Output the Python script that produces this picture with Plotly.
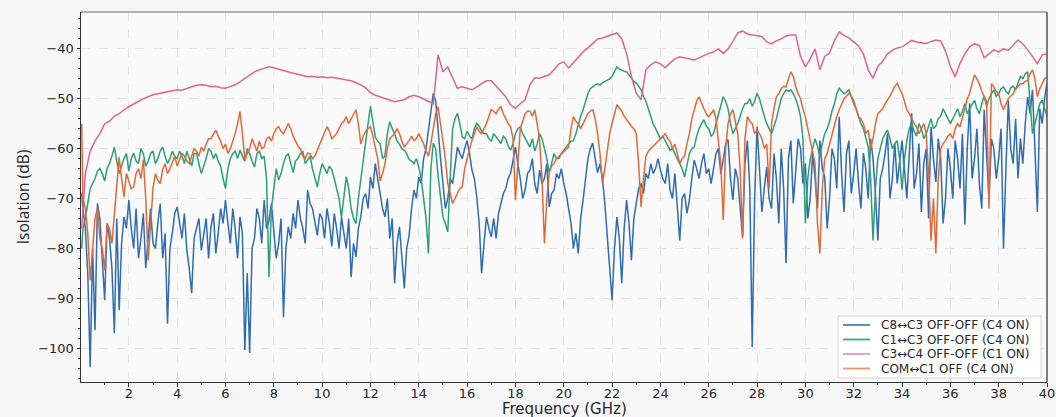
import numpy as np
import plotly.graph_objects as go

# frequency grids (GHz)
freq_fine = np.round(np.arange(401) * 0.1, 2)
freq_fine[0] = 0.05
freq_pink = np.round(np.arange(201) * 0.2, 2)
freq_pink[0] = 0.05

c8_c3 = [
    -69, -72, -76, -85, -103.8, -80, -96.4, -71, -74, -82, -90.4, -75, -78, -84, -97, -74, -92.4, -79, -73.7, -76,
    -70.3, -76, -80, -72, -82, -78, -73, -84, -78, -72, -79, -80, -75, -71, -82, -77, -95.1, -80, -77, -73,
    -71.7, -75, -78, -73, -80.4, -84, -89, -78, -76, -74, -80.4, -77, -74, -82, -75.7, -73, -81, -77, -72, -75,
    -70.3, -75, -79, -72, -76, -82, -73.7, -77, -100.4, -85, -101, -80, -78, -72, -74, -79, -70.3, -76, -74.5, -71,
    -77, -82, -79, -74, -93.8, -80, -75.7, -78, -73, -76, -70.3, -74, -76, -79, -68.3, -71, -72, -75, -77.4, -73,
    -74, -78, -72, -75, -79.6, -73, -76, -80, -73.7, -77, -80, -74, -85.8, -79, -81.7, -76, -73.7, -70, -69, -72,
    -65.7, -68, -63, -66, -69, -72, -73.7, -70, -78, -74, -87, -79, -75.7, -82, -88, -80, -77.4, -72, -68.3, -70,
    -65.7, -67, -62, -60, -56, -52, -48.9, -50.5, -57, -62, -67, -72, -70, -66, -67, -63, -59.7, -61, -62, -60,
    -58.4, -61, -64.3, -66, -69.7, -75, -85, -79, -73.7, -76, -77.7, -74, -78, -73, -71, -69, -68, -66, -64.9, -62,
    -59.7, -63, -66, -70, -68.3, -65, -64.3, -62, -67, -69, -64.3, -67, -66, -63, -71.7, -69, -68.3, -65, -66, -64,
    -67, -69, -72, -75, -80, -77, -81, -74, -70.3, -66, -62, -60, -58.9, -62, -64.8, -63, -66, -71, -77.4, -84,
    -90.4, -80, -73.7, -78, -87, -76, -70.3, -75, -82.4, -74, -70.7, -68, -67, -69, -65, -66, -63, -65, -64, -62,
    -64.3, -66, -67, -63, -68.3, -70, -65, -72, -78.4, -70, -69, -73, -70.3, -66, -62.3, -64, -66, -63, -61, -65,
    -64, -67, -63.7, -61, -60, -65, -62.3, -59, -58.2, -66, -70.3, -64, -66, -72, -77.7, -63, -58.4, -68, -99.8, -70,
    -55.6, -64, -72.7, -68, -63.7, -70, -72, -61, -66, -75, -60, -68, -83, -62, -58.4, -71, -64, -58, -60, -67,
    -63, -74, -70, -61, -66, -72, -58.4, -64, -65.7, -76, -70, -60, -62, -68, -53.6, -65, -72.7, -61, -58.4, -69,
    -65, -60, -67, -72, -60.9, -64, -70, -58, -62, -69, -78.4, -66, -64, -61, -57, -70, -66, -59, -67, -63,
    -58.4, -64, -70, -61, -52.9, -68, -65, -59, -72.7, -63, -60, -74, -55.6, -62, -66.7, -58, -62, -75, -70, -60,
    -64, -70, -58.4, -62, -68, -57, -75.2, -60, -50.9, -66, -62, -56, -67, -72, -52.2, -61, -70.3, -58, -60, -66,
    -62, -56, -80, -64, -50.3, -60, -63, -54, -66, -58, -63, -55, -49.6, -53, -48.2, -60, -72.7, -52, -55, -50,
    -46.8,
]

c1_c3 = [
    -80, -76, -74, -71, -68, -67, -66, -64.5, -64, -65, -66.5, -64, -63, -61.5, -59.7, -62.5, -65, -63.5, -62, -61,
    -64.5, -62, -60.9, -62.5, -63, -60, -61, -63.5, -62.5, -61, -60.5, -63, -62, -60.5, -59.7, -61.5, -63, -62, -60.5, -61.5,
    -62, -60.5, -61.5, -63, -60.5, -62, -63.5, -61, -61, -63, -65, -63.5, -62, -60, -60.5, -62, -61, -62.5, -63.5, -66,
    -68, -64, -62, -61, -60.5, -62, -60.3, -61.5, -62.5, -60, -61, -62.5, -63.7, -61, -60.5, -62, -61.5, -66, -85.8, -72,
    -67.7, -64, -66.3, -65, -63, -61.5, -61, -63, -64.8, -62.5, -62, -61, -60.5, -63, -62.2, -61.5, -64, -66, -67.7, -65,
    -63, -64, -65, -63.5, -64.2, -66, -68, -70, -73.7, -69, -65.6, -68, -72, -74, -75, -70, -66, -62, -59.1, -55,
    -51.5, -55, -57.7, -58.5, -59, -62, -61.5, -57, -54.6, -56, -57, -58.5, -59.1, -60, -60.3, -61, -62.2, -62.5, -63, -62,
    -63.7, -66, -69.7, -74, -81, -64, -58.9, -60, -65.5, -70, -73.7, -75, -76.7, -66, -56, -54, -52.9, -55, -57.7, -58,
    -56.5, -57.5, -58, -56, -54.9, -55.5, -56.5, -57, -57, -58, -58.5, -57, -57.7, -58.5, -59, -57.5, -58, -59.5, -60.3, -59,
    -57, -56, -55.6, -57, -58, -59, -59.7, -58, -60.5, -59, -57, -58, -60, -62, -64.8, -63, -61, -62, -62, -61,
    -60.3, -59.5, -59, -58.5, -58.4, -57, -55, -53.5, -52.2, -50.5, -49, -48, -47.6, -47.2, -47, -47.3, -46.8, -46.5, -46.3, -46,
    -45.5, -44.5, -43.6, -44, -44.3, -44.5, -44.6, -45.3, -46, -46.5, -46.8, -47.5, -48.2, -49.5, -50.5, -52, -53.5, -55, -56, -57,
    -58, -57.5, -58.4, -59.5, -60.3, -60, -61, -62, -62.9, -64, -65.7, -63, -61, -60, -59.7, -57.5, -56, -55, -54.2, -55.5,
    -56, -57.5, -57, -55, -53, -51, -49.6, -50.5, -52, -55, -57, -56, -55, -53.5, -52, -51, -50.9, -50, -51.5, -50.5,
    -48.9, -50, -52, -53.5, -55, -56, -57, -55.5, -54, -52, -50, -49, -48.2, -48.5, -48.2, -49, -50, -51.5, -53.6, -58,
    -75, -66, -62.2, -60, -58, -59.5, -61.5, -59, -57, -56, -54.6, -52.5, -51, -49, -47.9, -48.5, -49, -48.7, -48.2, -49.5,
    -51, -52, -53.6, -55, -56, -58, -59.7, -66, -78.4, -68, -62, -60, -58, -57, -56.3, -58, -60, -59, -58.4, -62,
    -68.3, -62, -58.4, -56, -55, -56.5, -57.5, -55, -56, -58, -57, -55.5, -54, -56, -55.5, -54, -53.5, -52, -52.9, -54,
    -55, -54, -53, -52, -53.6, -52.5, -51, -53, -52, -51, -50.3, -52, -53, -51, -49.5, -51.5, -50, -49, -48.2, -49.5,
    -49, -48, -47.6, -48.5, -49, -47.8, -47.5, -48.2, -46.9, -45.5, -46, -45, -44.6, -50, -57, -55, -53, -51, -50.3, -52,
    -53.6,
]

c3_c4 = [
    -76, -65, -60.5, -58.5, -57, -55, -54.5, -53.5, -53, -52.2,
    -51.6, -51, -50.5, -50, -49.6, -49.2, -49, -48.8, -48.6, -48.4,
    -48.2, -48.3, -47.9, -47.6, -47.3, -47.2, -47.3, -47.6, -47.5, -47.8,
    -47.9, -47.6, -47.2, -46.6, -45.9, -45.2, -44.6, -44.2, -43.9, -43.6,
    -43.8, -44.1, -44.4, -44.6, -44.9, -45.1, -45.3, -45.6, -45.5, -45.7,
    -45.6, -45.8, -45.7, -45.9, -46.0, -46.2, -46.4, -46.8, -47.2, -47.8,
    -48.8, -49.3, -49.6, -49.9, -50.3, -50.6, -50.4, -50.2, -49.6, -49.3,
    -49.6, -50.0, -50.5, -51.0, -41.2, -44.6, -43.6, -45.8, -47.9, -47.6,
    -47.9, -48.2, -47.6, -47.0, -46.4, -46.4, -47.5, -48.6, -49.6, -51.2,
    -51.9, -51.0, -50.2, -47.2, -45.8, -45.9, -45.6, -45.2, -44.2, -43.0,
    -42.6, -43.8, -42.8, -41.6, -40.6, -39.8, -38.8, -38.0, -37.8, -37.5,
    -37.2, -36.8, -38.0, -40.9, -45.5, -48.9, -50.2, -44.2, -43.2, -42.6,
    -43.0, -43.8, -42.8, -42.0, -41.6, -41.8, -42.0, -42.2, -41.8, -41.3,
    -40.9, -40.6, -40.0, -40.9, -40.0, -38.5, -36.8, -36.4, -37.0, -37.2,
    -37.3, -37.5, -38.6, -39.0, -38.4, -38.0, -37.4, -37.2, -37.2, -41.5,
    -43.6, -42.0, -40.0, -44.2, -41.5, -40.8, -38.4, -36.6, -37.3, -37.8,
    -38.6, -39.4, -41.0, -44.2, -45.9, -43.5, -42.5, -41.0, -40.3, -39.8,
    -39.6, -38.9, -38.3, -38.6, -38.7, -38.9, -38.5, -38.2, -38.4, -40.5,
    -43.5, -45.6, -42.9, -41.0, -39.6, -39.0, -39.3, -41.8, -41.0, -40.2,
    -40.6, -40.0, -40.3, -39.2, -38.2, -39.0, -40.2, -41.5, -43.0, -41.2,
    -41.0,
]

com_c1 = [
    -55, -70, -72, -77, -86.4, -80, -74, -72, -78, -80, -84.4, -75, -76, -79, -73.7, -68, -61.7, -66, -69.7, -65,
    -66.3, -68, -67.7, -65, -64, -66, -62.2, -70, -82.4, -74, -68, -65, -66.3, -67, -64.2, -63, -65, -64, -62.9, -61.5,
    -63.5, -62, -60.9, -61.5, -62.5, -63, -61.5, -60, -60.5, -61.5, -59.7, -60.5, -59.1, -58, -58, -57, -56.3, -57.5, -58.5, -60,
    -59.1, -61, -60, -58.5, -57, -55, -52.6, -57, -62.2, -61, -60, -58, -59.1, -60.5, -58.5, -60, -59.7, -58, -57.7, -58.5,
    -57, -56, -55.6, -56.5, -57, -56, -55, -56, -57.5, -58.5, -59.5, -60, -61.5, -62, -60.9, -61, -62, -61.5, -60.3, -59,
    -58, -57, -55.6, -56.5, -58, -57.5, -57, -56, -55, -54.5, -53.6, -55, -54, -53, -52.2, -55, -59.1, -57.5, -56.5, -56,
    -55.6, -57.5, -59.7, -62, -66.5, -65, -63, -60, -58, -57.5, -57, -56, -57, -58.5, -59.7, -59, -58.4, -57.5, -58.4, -58,
    -57, -58, -59, -60.5, -61.5, -59, -56, -53, -51.6, -55, -58.4, -62, -67, -69, -71, -70, -69, -68, -67.7, -64,
    -62, -60, -58.4, -57, -55.6, -56.5, -57, -56, -55, -53.5, -52.2, -52.5, -53, -52, -51.6, -53, -54.2, -55, -55.6, -58,
    -70.3, -62, -56, -54.5, -53, -52.5, -52.5, -53.5, -52.2, -55, -58.4, -66, -79, -70, -64.8, -63.5, -63, -62, -61.5, -61,
    -60.5, -60, -59.7, -56, -53.6, -54.5, -55, -56, -54.9, -54, -53, -52.5, -52.2, -54, -57, -61, -67, -64, -60.9, -57,
    -54.9, -53, -51.2, -51.8, -52.5, -53.5, -54.2, -55, -55.5, -56, -57, -63, -71.7, -66, -61.5, -60.5, -60, -59.5, -59.1, -58.5,
    -58, -57.5, -57, -58, -58.5, -60, -59.1, -61, -63, -62, -61.5, -59, -57, -54, -52.2, -50.5, -49.6, -51, -52, -53,
    -53.6, -53, -52.2, -54, -58, -63, -74.3, -60, -55, -53, -52.2, -55, -57, -64, -78, -58, -53.6, -54.5, -55, -57,
    -56.3, -57, -58, -60, -59.1, -68, -55, -52, -49.6, -49, -48, -47.5, -47.6, -46, -44.6, -45.5, -47.6, -49, -50, -52,
    -53.6, -56, -58.4, -61, -63, -75, -81, -68, -62, -61, -59.1, -57, -55, -53.5, -52.2, -51, -50, -49.5, -48.9, -49.5,
    -50.3, -52, -53.6, -54, -55, -57, -56.3, -60, -58, -55, -53, -52.5, -52, -51, -50.3, -49.5, -48.5, -47.5, -46.9, -48,
    -49, -50.5, -52.2, -53, -54, -55, -55.6, -57, -56, -55, -57, -65, -78.4, -70, -81, -66, -60, -59, -58.4, -57.5,
    -57, -58, -56, -55, -55.6, -54, -52, -50, -48.9, -47, -45.2, -46, -47, -48.5, -49.6, -50.5, -72, -47, -47.6, -48.5,
    -49, -51, -52.2, -51, -50, -49.5, -49, -48, -47.6, -47, -47, -46.5, -46.3, -45, -44.2, -46, -49.6, -48, -47, -46,
    -45.6,
]

names = [
    "C8↔C3 OFF-OFF (C4 ON)",
    "C1↔C3 OFF-OFF (C4 ON)",
    "C3↔C4 OFF-OFF (C1 ON)",
    "COM↔C1 OFF (C4 ON)",
]
series = [c8_c3, c1_c3, c3_c4, com_c1]
xgrids = [freq_fine, freq_fine, freq_pink, freq_fine]
colors = ["#2f6db0", "#2e9e78", "#db6592", "#e0693a"]
legend_colors = ["#4a80bd", "#3aaa82", "#e79ab5", "#ec9470"]

fig = go.Figure()
for nm, xs, ys, col in zip(names, xgrids, series, colors):
    fig.add_trace(go.Scatter(x=xs, y=ys, mode="lines", name=nm,
                             line=dict(color=col, width=1.5), showlegend=False))

font = "DejaVu Sans, Verdana, sans-serif"
W, H = 1056, 417
L, R, T, B = 81, 9, 12, 35
pw, ph = W - L - R, H - T - B


def px(xp):
    return (xp - L) / pw


def py(yp):
    return (H - B - yp) / ph


shapes = [
    dict(type="line", xref="paper", yref="paper", x0=0, x1=1, y0=1, y1=1,
         line=dict(color="#9a9a9a", width=1.5), layer="above"),
    dict(type="line", xref="paper", yref="paper", x0=1, x1=1, y0=0, y1=1,
         line=dict(color="#555555", width=1.5), layer="above"),
    dict(type="rect", xref="paper", yref="paper", x0=px(838), x1=px(1041),
         y0=py(378), y1=py(316), fillcolor="rgba(255,255,255,0.92)",
         line=dict(color="#d4d4d4", width=1), layer="above"),
]
annotations = []
row_y = [325, 339.5, 354, 368.5]
for i, nm in enumerate(names):
    shapes.append(dict(type="line", xref="paper", yref="paper",
                       x0=px(843), x1=px(870), y0=py(row_y[i]), y1=py(row_y[i]),
                       line=dict(color=legend_colors[i], width=1.8), layer="above"))
    annotations.append(dict(xref="paper", yref="paper", x=px(879), y=py(row_y[i]),
                            xanchor="left", yanchor="middle", text=nm, showarrow=False,
                            font=dict(family=font, size=12, color="#262626")))
annotations.append(dict(xref="paper", yref="paper", x=px(564), y=py(408.5),
                        xanchor="center", yanchor="middle", text="Frequency (GHz)",
                        showarrow=False, borderpad=0,
                        font=dict(family=font, size=15, color="#262626")))

fig.update_layout(
    width=W, height=H,
    margin=dict(l=L, r=R, t=T, b=B),
    paper_bgcolor="#f6f6f6",
    plot_bgcolor="#fafafa",
    font=dict(family=font, size=13, color="#262626"),
    showlegend=False,
    xaxis=dict(
        range=[0.02, 40], dtick=2, tick0=0, automargin=False,
        showgrid=True, gridcolor="#e4e4e4", griddash="dash", gridwidth=1,
        zeroline=False, showline=True, linecolor="#333333", linewidth=1,
        ticks="outside", ticklen=3.5, tickcolor="#333333", ticklabelstandoff=-4,
        minor=dict(dtick=1, ticks="outside", ticklen=2, tickcolor="#333333", showgrid=False),
        tickfont=dict(size=13),
    ),
    yaxis=dict(
        range=[-106.8, -32.6], dtick=10, tick0=0, automargin=False,
        showgrid=True, gridcolor="#e4e4e4", griddash="dash", gridwidth=1,
        zeroline=False, showline=True, linecolor="#333333", linewidth=1,
        ticks="outside", ticklen=3.5, tickcolor="#333333",
        minor=dict(dtick=2, ticks="outside", ticklen=2, tickcolor="#333333", showgrid=False),
        title=dict(text="Isolation (dB)", font=dict(family="Open Sans, sans-serif", size=15.5), standoff=4),
        tickfont=dict(size=13),
    ),
    shapes=shapes,
    annotations=annotations,
)

fig.write_html("out.html")
